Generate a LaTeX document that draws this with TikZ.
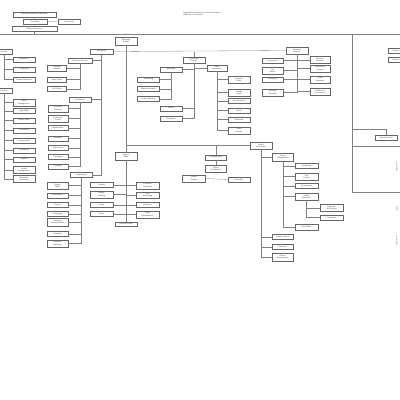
\documentclass[tikz,border=0pt]{standalone}
\usepackage{fontspec}
\setmainfont{Liberation Sans}
\begin{document}
\begin{tikzpicture}[x=1pt,y=-1pt,
  bx/.style={draw=black!60,line width=0.28pt,fill=white,rectangle,inner sep=0pt,align=center,
    text=black!75,font=\fontsize{1.9}{2.3}\selectfont,minimum height=5pt},
  ln/.style={draw=black!50,line width=0.3pt},
  note/.style={font=\fontsize{2}{2.6}\selectfont,text=black!75,align=left,inner sep=0pt,anchor=north west},
  edgetxt/.style={font=\fontsize{1.9}{2.3}\selectfont,text=black!60,inner sep=0pt,rotate=90}]
\useasboundingbox (0,0) rectangle (400,400);
% ---------- top left
\node[bx,minimum width=43pt] (A) at (34.5,14.5) {General Assembly of Members};
\node[bx,minimum width=24pt] (B) at (35,21.5) {President};
\node[bx,minimum width=22pt] (C) at (69,22) {Secretariat};
\node[bx,minimum width=45pt] (D) at (34.5,29) {Board of Directors};
\draw[ln] (A) -- (B) -- (D);
\draw[ln] (B) -- (C);
\node[note] (N) at (183,11.5) {Organizational structure of the association\\valid from 1st January};
% ---------- main lines
\coordinate (tl) at (0,34.5);
\coordinate (tr) at (400,34.5);
\coordinate (vb) at (352,192);
\draw[ln] (tl) -- (tr);
\draw[ln] (D.south) -- (D.south |- tl);
\draw[ln] (vb |- tl) -- (vb);
\coordinate (re146) at (400,146);
\coordinate (re192) at (400,192);
\draw[ln] (vb |- re146) -- (re146);
\draw[ln] (vb) -- (re192);
% ---------- left edge
\node[bx,minimum width=16pt] (L1) at (4,51.5) {Division};
\node[bx,minimum width=16pt] (L2) at (4,90.5) {Division};
\foreach \n/\y/\t in {a/59.5/Department, b/69.5/Controlling, c/79.5/Human Resources}{
  \node[bx,minimum width=22pt] (L1\n) at (24,\y) {\t};
  \draw[ln] (L1.south) |- (L1\n.west);}
\foreach \n/\y/\t/\h in {a/102.5/{Project\\Management}/7, b/111/Legal Office/5, c/120.5/Quality Office/5,
  d/130.5/Accounting/5, e/140.5/Internal Audit/5, f/150.5/Purchasing/5, g/159.5/Logistics/5,
  h/170/{Facility\\Management}/7, i/179/{Information\\Technology}/7}{
  \node[bx,minimum width=22pt,minimum height=\h pt] (L2\n) at (24,\y) {\t};
  \draw[ln] (L2.south) |- (L2\n.west);}
% ---------- column 2
\node[bx,minimum width=23pt] (E) at (101.5,51.5) {Operations};
\node[bx,minimum width=24pt] (P1) at (80,60.5) {Customer Service};
\node[bx,minimum width=22pt] (P2) at (80,99.5) {Production};
\node[bx,minimum width=22pt] (P3) at (81,175) {Engineering};
\draw[ln] (E.south) |- (P1.east);
\draw[ln] (E.south) |- (P2.east);
\draw[ln] (E.south) |- (P3.east);
\foreach \n/\y/\t/\h in {a/68/{Customer\\Support}/6.5, b/79.5/Sales Office/5, c/89/Call Center/5}{
  \node[bx,minimum width=19pt,minimum height=\h pt] (P1\n) at (57,\y) {\t};
  \draw[ln] (P1.south) |- (P1\n.east);}
\foreach \n/\y/\t/\h in {a/108.5/{Production\\Planning}/7, b/118.5/{Production\\Control}/7, c/128/Maintenance/5,
  d/138.5/Assembly/5, e/148/Warehouse/5, f/157/Packaging/5, g/166.5/Shipping/5}{
  \node[bx,minimum width=20pt,minimum height=\h pt] (P2\n) at (58,\y) {\t};
  \draw[ln] (P2.south) |- (P2\n.east);}
\foreach \n/\y/\t/\h in {a/185.5/{Design\\Office}/6.5, b/195.5/Development/5, c/205/Testing/5,
  d/214/Prototyping/5, e/222/{Technical\\Documentation}/8, f/234/Standards/5, g/243.5/{Research\\Laboratory}/7}{
  \node[bx,minimum width=21pt,minimum height=\h pt] (P3\n) at (57.5,\y) {\t};
  \draw[ln] (P3.south) |- (P3\n.east);}
% ---------- column 3
\node[bx,minimum width=22pt,minimum height=7.5pt] (T1) at (126,41) {Managing\\Director};
\node[bx,minimum width=22pt,minimum height=7.5pt] (H2) at (126,156) {Finance\\Office};
\draw[ln] (T1.south) -- (H2.north);
\foreach \n/\y/\t/\h in {a/185/Treasury/5, b/194.5/{Budget\\Planning}/7, c/205/Payroll/5, d/214/Taxes/5}{
  \node[bx,minimum width=23pt,minimum height=\h pt] (H2\n) at (101.5,\y) {\t};
  \draw[ln] (H2.south) |- (H2\n.east);}
\foreach \n/\y/\t/\h in {a/185.5/{Financial\\Reporting}/6.5, b/195/{Cost\\Accounting}/6.5, c/205/Insurance/5, d/214.5/{Asset\\Management}/6.5}{
  \node[bx,minimum width=23pt,minimum height=\h pt] (H2\n) at (147.5,\y) {\t};
  \draw[ln] (H2.south) |- (H2\n.west);}
\node[bx,minimum width=22pt,minimum height=4.5pt] (H2e) at (126,224) {Controlling Unit};
\draw[ln] (H2.south) -- (H2e.north);
% ---------- y=50 branch
\node[bx,minimum width=22pt,minimum height=7.5pt] (R1) at (297,50.5) {Technical\\Director};
\draw[ln] (E.east) -- (R1.west);
\node[bx,minimum width=22pt,minimum height=6.5pt] (G) at (194,60) {Commercial\\Director};
\draw[ln] (G.north) -- (G.north |- E.east);
\node[bx,minimum width=22pt] (G1) at (171,69.5) {Marketing};
\node[bx,minimum width=22pt] (G2) at (171,108.5) {Export};
\node[bx,minimum width=22pt] (G3) at (171,118.5) {Distribution};
\foreach \n in {G1,G2,G3}{\draw[ln] (G.south) |- (\n.east);}
\foreach \n/\y/\t in {a/79.5/Advertising, b/89/Market Research, c/99/Public Relations}{
  \node[bx,minimum width=22pt] (G1\n) at (148.5,\y) {\t};
  \draw[ln] (G1.south) |- (G1\n.east);}
\node[bx,minimum width=20pt,minimum height=6.5pt] (G4) at (217,68) {Sales\\Department};
\draw[ln] (G.south) |- (G4.west);
\foreach \n/\y/\t/\h in {a/79.5/{Domestic\\Sales}/7, b/92.5/{Foreign\\Sales}/6.5, c/101/Key Accounts/5,
  d/110.5/Retail/5, e/119.5/Wholesale/5, f/130.5/{Sales\\Support}/7}{
  \node[bx,minimum width=22pt,minimum height=\h pt] (G4\n) at (239,\y) {\t};
  \draw[ln] (G4.south) |- (G4\n.west);}
\foreach \n/\y/\t/\h in {a/60.5/Construction/5, b/70.5/{Civil\\Works}/6.5, c/79.5/Surveying/5, d/92.5/{Technical\\Planning}/7}{
  \node[bx,minimum width=21pt,minimum height=\h pt] (R1\n) at (272.5,\y) {\t};
  \draw[ln] (R1.south) |- (R1\n.east);}
\foreach \n/\y/\t in {a/60/{Electrical\\Systems}, b/68.5/{Mechanical\\Systems}, c/79.5/{Plant\\Operation}, d/91.5/{Safety and\\Environment}}{
  \node[bx,minimum width=20pt,minimum height=7pt] (R1\n r) at (320,\y) {\t};
  \draw[ln] (R1.south) |- (R1\n r.west);}
% ---------- right edge
\node[bx,minimum width=16pt] (RE1) at (396,51) {Division};
\node[bx,minimum width=16pt] (RE2) at (396,59.5) {Division};
\node[bx,minimum width=22pt] (K) at (386,137.5) {Internal Control};
\coordinate (k1) at (352,129);
\draw[ln] (k1) -| (K.north);
\node[edgetxt] (RT1) at (397,167) {Department};
\node[edgetxt] (RT2) at (397,209) {Office};
\node[edgetxt] (RT3) at (397,241) {Department};
% ---------- y=147 branch
\node[bx,minimum width=22pt,minimum height=7.5pt] (H3) at (261,145.5) {Project\\Directorate};
\draw[ln] (T1.south |- H3.west) -- (H3.west);
\node[bx,minimum width=21pt,minimum height=5.5pt] (M1) at (216,157.5) {Planning Office};
\node[bx,minimum width=21pt,minimum height=6.5pt] (M2) at (216,168.5) {Project\\Coordination};
\draw[ln] (M1.north |- H3.west) -- (M1.north);
\draw[ln] (M1.south) -- (M2.north);
\node[bx,minimum width=23pt,minimum height=7pt] (M3) at (194,178.5) {Project\\Support};
\node[bx,minimum width=22pt] (M4) at (239,179.5) {Site Office};
\draw[ln] (M3.east) -- (M4.west);
\node[bx,minimum width=21pt,minimum height=8pt] (H4) at (283,157) {Project\\Management};
\draw[ln] (H3.south) |- (H4.west);
\foreach \n/\y/\t/\h in {a/237/Project Control/5, b/247/Contracts/5, c/257/{Claims\\Management}/7.5}{
  \node[bx,minimum width=21pt,minimum height=\h pt] (H3\n) at (282.5,\y) {\t};
  \draw[ln] (H3.south) |- (H3\n.west);}
\foreach \n/\y/\t/\h in {a/166/Scheduling/5, b/176.5/{Cost\\Control}/7, c/186/Procurement/5, d/196.5/{Quality\\Assurance}/7, e/227/Risk Office/5.5}{
  \node[bx,minimum width=23pt,minimum height=\h pt] (H4\n) at (306.5,\y) {\t};
  \draw[ln] (H4.south) |- (H4\n.west);}
\foreach \n/\y/\t/\h in {a/208/{Inspection\\and Testing}/7, b/217.5/Certification/5}{
  \node[bx,minimum width=23pt,minimum height=\h pt] (H4d\n) at (331.5,\y) {\t};
  \draw[ln] (H4d.south) |- (H4d\n.west);}
\end{tikzpicture}
\end{document}
